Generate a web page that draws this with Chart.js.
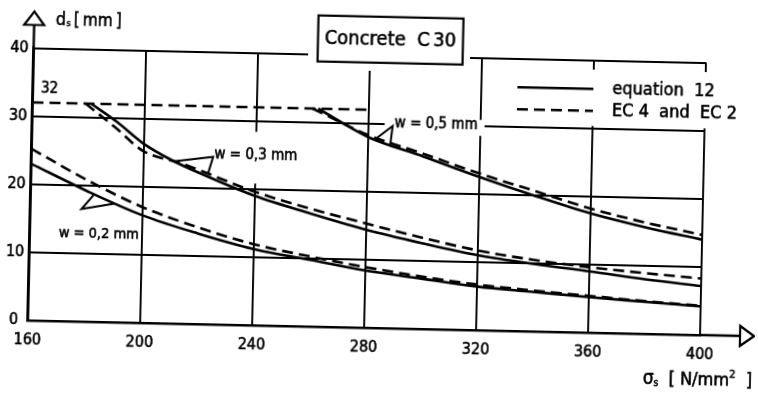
<!DOCTYPE html>
<html><head><meta charset="utf-8">
<script src="https://cdn.jsdelivr.net/npm/chart.js@4.4.1/dist/chart.umd.min.js"></script>
<style>
html,body{margin:0;padding:0;background:#fff;overflow:hidden;width:758px;height:393px;}
#wrap{position:absolute;left:0;top:0;width:758px;height:393px;transform:rotate(1.25deg);transform-origin:379px 196.5px;}
canvas{display:block;}
</style></head><body>
<div id="wrap"><canvas id="c" width="758" height="393"></canvas></div>
<script>
// ---------- data ----------
const xTicks = [160, 200, 240, 280, 320, 360, 400];
const yTicks = [0, 10, 20, 30, 40];

const capSigma = [160, 280];
const capDs    = [32, 32];

const w02Sigma = [160, 180, 200, 220, 240, 260, 280, 300, 320, 340, 360, 380, 400];
const w02Eq    = [23.0, 19.2, 15.8, 13.3, 11.2, 9.8, 8.4, 7.4, 6.4, 5.8, 5.2, 4.7, 4.2];
const w02Ec    = [25.2, 20.8, 17.0, 14.2, 11.9, 10.3, 8.9, 7.7, 6.7, 6.0, 5.4, 4.8, 4.3];

const w03EqSigma = [181, 190, 200, 210, 220, 240, 260, 280, 300, 320, 340, 360, 380, 400];
const w03Eq      = [32, 29.5, 26.3, 24.0, 22.2, 19.0, 16.6, 14.4, 12.6, 11.0, 9.9, 9.0, 8.0, 7.2];
const w03EcSigma = [179, 190, 200, 213, 220, 240, 260, 280, 300, 320, 340, 360, 380, 400];
const w03Ec      = [32, 28.5, 25.2, 23.6, 22.6, 19.6, 17.3, 15.3, 13.4, 11.7, 10.5, 9.6, 8.9, 8.3];

const w05EqSigma = [262, 280, 300, 320, 340, 360, 380, 400];
const w05Eq      = [32, 28.0, 25.3, 22.5, 19.9, 17.5, 15.6, 14.0];
const w05EcSigma = [260, 280, 300, 320, 340, 360, 380, 400];
const w05Ec      = [32, 28.3, 25.7, 23.0, 20.6, 18.2, 16.3, 14.7];

const seriesNames = ['equation  12', 'EC 4  and  EC 2'];
const curveLabels = ['w = 0,2 mm', 'w = 0,3 mm', 'w = 0,5 mm'];
const chartTitle = 'Concrete  C\u200930';

// ---------- styling ----------
const FONT = '"DejaVu Sans Condensed","DejaVu Sans",sans-serif';
const INK = '#000';
const DASH = [11, 6];
const TXT_STROKE = 0.55;
Chart.defaults.font.family = FONT;
Chart.defaults.color = INK;

function pts(xs, ys) { return xs.map((v, i) => ({x: v, y: ys[i]})); }
function line(label, xs, ys, dashed) {
  return {label, data: pts(xs, ys), borderColor: INK, borderWidth: 2.6,
    borderDash: dashed ? DASH : [], pointRadius: 0, fill: false,
    cubicInterpolationMode: 'monotone'};
}
function txt(ctx, s, x, y) {
  ctx.fillText(s, x, y);
  ctx.lineWidth = TXT_STROKE; ctx.strokeText(s, x, y);
}

const deco = {
  id: 'deco',
  beforeDatasetsDraw(chart) {
    const {ctx, scales: {x, y}} = chart;
    ctx.save();
    ctx.fillStyle = '#fff';
    // mask under the title box
    ctx.fillRect(305, 4, 162, 67);
    // mask under the legend
    ctx.fillRect(490, 65, 268, 56.3);
    // gap in grid around "w = 0,3 mm"
    ctx.font = '15px ' + FONT;
    const w3 = ctx.measureText(curveLabels[1]).width;
    const x3 = x.getPixelForValue(225.3);
    ctx.fillRect(x3 - 2, y.getPixelForValue(28.4), w3 + 4, y.getPixelForValue(20.8) - y.getPixelForValue(28.4));
    // gap in 30-line around "w = 0,5 mm"
    const w5 = ctx.measureText(curveLabels[2]).width;
    const x5 = x.getPixelForValue(289.4);
    const yc5 = y.getPixelForValue(29.7);
    ctx.fillRect(x5 - 10, yc5 - 8, w5 + 17, 16);
    ctx.restore();
  },
  afterDatasetsDraw(chart) {
    const {ctx, scales: {x, y}} = chart;
    const P = (a, b) => [x.getPixelForValue(a), y.getPixelForValue(b)];
    ctx.save();
    ctx.strokeStyle = INK; ctx.fillStyle = INK; ctx.lineWidth = 2;
    ctx.lineJoin = 'miter';
    // pointer flags: apex + two ends on curve
    const flags = [
      [[178.3, 16.5], [182.5, 18.6], [189.8, 17.4]],
      [[224.9, 24.6], [211.0, 23.8], [223.1, 22.0]],
      [[288.7, 29.7], [282.6, 27.7], [288.0, 27.0]]
    ];
    flags.forEach(f => {
      const a = P(...f[0]), b = P(...f[1]), c = P(...f[2]);
      ctx.beginPath(); ctx.moveTo(...b); ctx.lineTo(...a); ctx.lineTo(...c); ctx.stroke();
    });
    ctx.textBaseline = 'middle'; ctx.textAlign = 'left';
    ctx.font = '14.5px ' + FONT;
    let p = P(170.4, 12.9); txt(ctx, curveLabels[0], p[0], p[1]);
    ctx.font = '15px ' + FONT;
    p = P(225.3, 24.9); txt(ctx, curveLabels[1], p[0], p[1]);
    p = P(289.4, 30.1); txt(ctx, curveLabels[2], p[0], p[1]);
    // "32" mark
    ctx.font = '15px ' + FONT; ctx.textAlign = 'center';
    p = P(166, 34.0); txt(ctx, '32', p[0], p[1]);
    ctx.restore();
  },
  afterDraw(chart) {
    const {ctx, chartArea: a} = chart;
    ctx.save();
    ctx.strokeStyle = INK; ctx.fillStyle = INK; ctx.lineWidth = 2.4;
    // axis extensions + open arrow heads
    ctx.beginPath(); ctx.moveTo(a.left, a.top); ctx.lineTo(a.left, 32.5);
    ctx.moveTo(a.right, a.bottom); ctx.lineTo(743, a.bottom); ctx.stroke();
    ctx.lineWidth = 2.2;
    ctx.beginPath(); ctx.moveTo(a.left - 10, 32.5); ctx.lineTo(a.left + 10, 32.5); ctx.lineTo(a.left, 19); ctx.closePath();
    ctx.fillStyle = '#fff'; ctx.fill(); ctx.stroke();
    ctx.beginPath(); ctx.moveTo(743, a.bottom - 10); ctx.lineTo(743, a.bottom + 10); ctx.lineTo(757, a.bottom); ctx.closePath();
    ctx.fill(); ctx.stroke();
    ctx.fillStyle = INK;
    // y axis title: d_s [ mm ]
    ctx.textBaseline = 'alphabetic'; ctx.textAlign = 'left';
    let cx = 52;
    ctx.font = '18px ' + FONT; txt(ctx, 'd', cx, 32); cx += ctx.measureText('d').width + 0.5;
    ctx.font = '9px ' + FONT; txt(ctx, 's', cx, 33); cx += ctx.measureText('s').width + 3;
    ctx.font = '17px ' + FONT; txt(ctx, '[\u2009mm\u2009]', cx, 32);
    // x axis title: sigma_s [ N/mm2 ]
    const parts = [['\u03c3', 19, 0], ['s', 10, 2], ['  [ N/mm', 18, 0], ['2', 11, -8], ['  ]', 18, 0]];
    let total = 0;
    parts.forEach(q => { ctx.font = q[1] + 'px ' + FONT; total += ctx.measureText(q[0]).width; });
    cx = 756 - total;
    parts.forEach(q => { ctx.font = q[1] + 'px ' + FONT; txt(ctx, q[0], cx, 377.5 + q[2]); cx += ctx.measureText(q[0]).width; });
    // title box
    ctx.lineWidth = 2.2;
    ctx.strokeRect(314.6, 16.8, 145, 46);
    ctx.font = '20px ' + FONT; ctx.textAlign = 'center'; ctx.textBaseline = 'middle';
    txt(ctx, chartTitle, 387, 40);
    // legend
    ctx.lineWidth = 2.6;
    ctx.beginPath(); ctx.moveTo(515, 84.2); ctx.lineTo(591, 84.2); ctx.stroke();
    ctx.setLineDash(DASH);
    ctx.beginPath(); ctx.moveTo(515, 106.2); ctx.lineTo(591, 106.2); ctx.stroke();
    ctx.setLineDash([]);
    ctx.font = '18px ' + FONT; ctx.textAlign = 'left';
    txt(ctx, seriesNames[0], 610, 84);
    txt(ctx, seriesNames[1], 610, 106);
    ctx.restore();
  }
};

const axisCommon = {
  grid: {color: INK, lineWidth: 1.9, drawTicks: false},
  border: {color: INK, width: 2.4}
};
const tickCommon = {font: {size: 16}, color: INK, textStrokeColor: INK, textStrokeWidth: TXT_STROKE};

new Chart(document.getElementById('c'), {
  type: 'line',
  data: {
    datasets: [
      line('cap', capSigma, capDs, true),
      line('w02 eq', w02Sigma, w02Eq, false),
      line('w02 ec', w02Sigma, w02Ec, true),
      line('w03 eq', w03EqSigma, w03Eq, false),
      line('w03 ec', w03EcSigma, w03Ec, true),
      line('w05 eq', w05EqSigma, w05Eq, false),
      line('w05 ec', w05EcSigma, w05Ec, true)
    ]
  },
  options: {
    responsive: false, animation: false, devicePixelRatio: 1,
    layout: {padding: {top: 55.5, right: 55, left: 0, bottom: 0}},
    plugins: {legend: {display: false}, tooltip: {enabled: false}},
    scales: {
      x: Object.assign({
        type: 'linear', min: 160, max: 400,
        afterBuildTicks(s) { s.ticks = xTicks.map(v => ({value: v})); },
        afterFit(s) { s.height = 65; },
        ticks: Object.assign({padding: 10, maxRotation: 0, autoSkip: false, callback: v => String(v)}, tickCommon)
      }, axisCommon),
      y: Object.assign({
        type: 'linear', min: 0, max: 40,
        afterBuildTicks(s) { s.ticks = yTicks.map(v => ({value: v})); },
        afterFit(s) { s.width = 30.5; },
        ticks: Object.assign({padding: 5, crossAlign: 'center', callback: v => String(v)}, tickCommon)
      }, axisCommon)
    }
  },
  plugins: [deco]
});
</script>
</body></html>
